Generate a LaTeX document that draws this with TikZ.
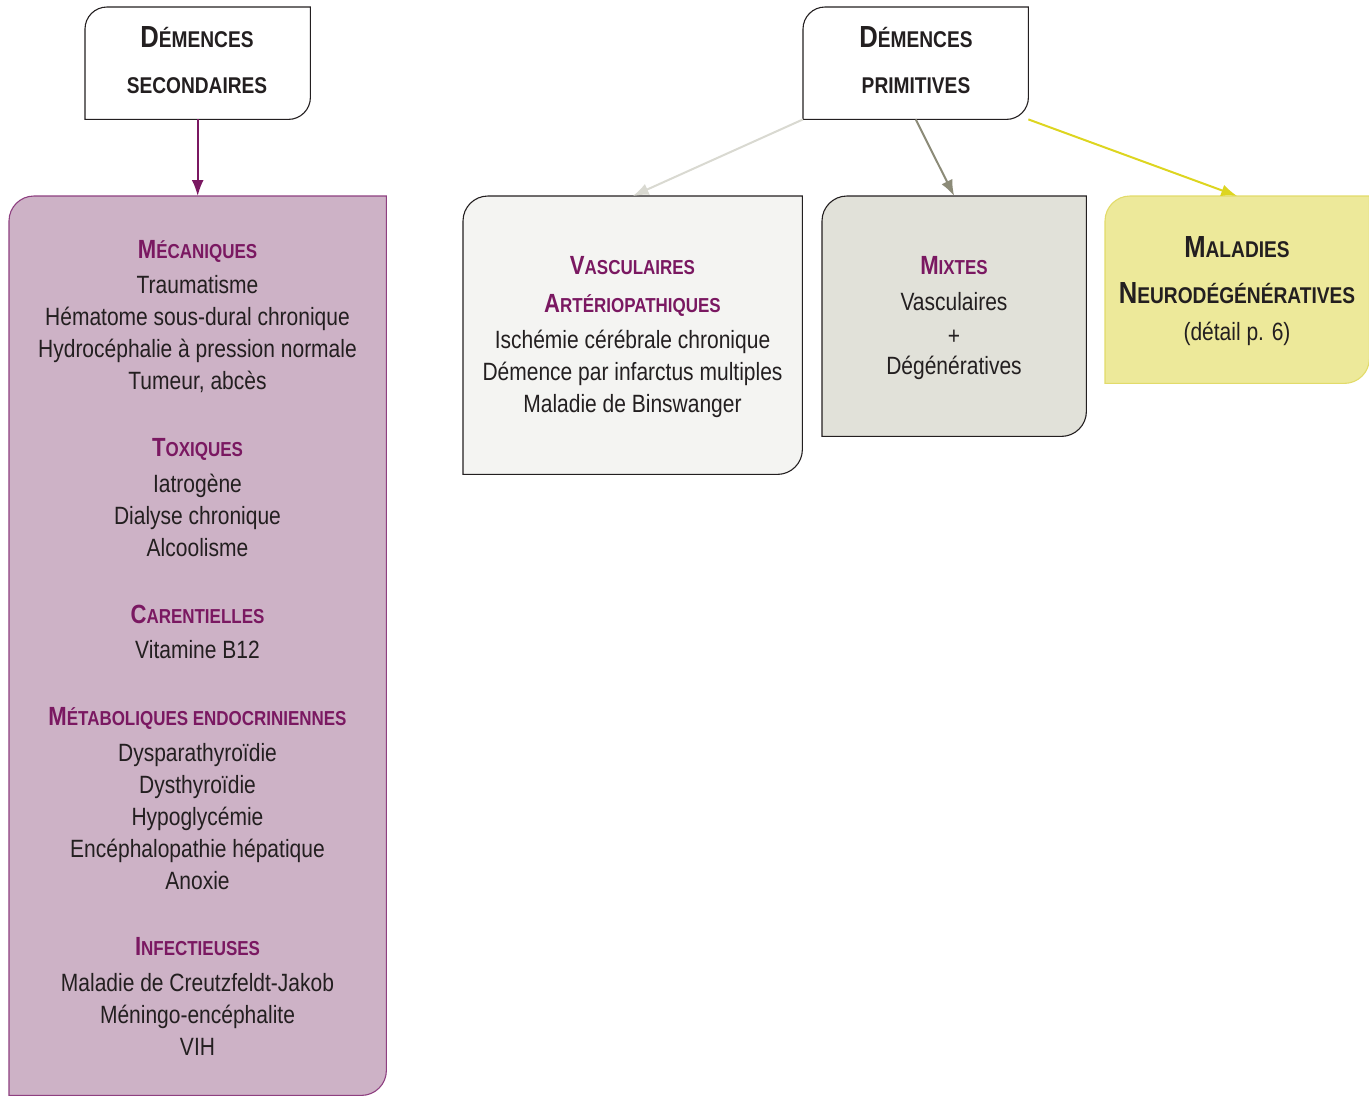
\documentclass[tikz,border=0pt]{standalone}
\usepackage{fontspec}
\setmainfont{Liberation Sans}[FakeStretch=0.84]
\usetikzlibrary{arrows.meta}
\definecolor{txt}{HTML}{231F20}
\definecolor{plum}{HTML}{7A1861}
\definecolor{plumfill}{HTML}{CDB2C6}
\definecolor{plumline}{HTML}{8E3F80}
\definecolor{vascfill}{HTML}{F4F4F2}
\definecolor{mixfill}{HTML}{E1E1D9}
\definecolor{malfill}{HTML}{EDE99A}
\definecolor{malline}{HTML}{E2DB6A}
\definecolor{arrvasc}{HTML}{D9D9D1}
\definecolor{arrmix}{HTML}{8C8B78}
\definecolor{arrmal}{HTML}{DDD520}
\newcommand\hsc[2]{{\fontsize{26.3}{26}\selectfont #1}{\fontsize{20.2}{20}\selectfont #2}}
\newcommand\bsc[2]{{\fontsize{30.5}{30}\selectfont #1}{\fontsize{22.8}{22.5}\selectfont #2}}
\newcommand\cbox[4]{\path[draw=#3,fill=#2,line width=1.1pt]
  ([yshift=-#4]#1.north west) arc[start angle=180,end angle=90,radius=#4] -- (#1.north east)
  -- ([yshift=#4]#1.south east) arc[start angle=0,end angle=-90,radius=#4] -- (#1.south west) -- cycle;}
\begin{document}
\begin{tikzpicture}[x=1pt,y=1pt,
  frame/.style={draw=none,inner sep=0pt,anchor=north west},
  ln/.style={anchor=base,inner sep=0pt,text=txt,font=\fontsize{25}{25}\selectfont},
  hd/.style={anchor=base,inner sep=0pt,text=plum,font=\bfseries},
  bh/.style={anchor=base,inner sep=0pt,text=txt,font=\bfseries},
  arr/.style={line width=2pt,-{Latex[length=16pt,width=12pt]}}]
\useasboundingbox (0,0) rectangle (1369,-1096);
% frames
\node[frame,minimum width=225pt,minimum height=112pt] (sec) at (85,-7) {};
\node[frame,minimum width=225pt,minimum height=112pt] (prim) at (803,-7) {};
\node[frame,minimum width=377pt,minimum height=899pt] (left) at (9,-196) {};
\node[frame,minimum width=339pt,minimum height=278pt] (vasc) at (463,-196) {};
\node[frame,minimum width=264pt,minimum height=240pt] (mix) at (822,-196) {};
\node[frame,minimum width=264pt,minimum height=187pt] (mal) at (1105,-196) {};
\cbox{sec}{white}{txt}{22pt}
\cbox{prim}{white}{txt}{22pt}
\cbox{left}{plumfill}{plumline}{25pt}
\cbox{vasc}{vascfill}{txt}{25pt}
\cbox{mix}{mixfill}{txt}{25pt}
\cbox{mal}{malfill}{malline}{25pt}
% arrows
\draw[arr,plum] (sec.south) -- (left.north);
\draw[arr,arrvasc] (prim.south west) -- (vasc.north);
\draw[arr,arrmix] (prim.south) -- (mix.north);
\draw[arr,arrmal] (prim.south east) -- (mal.north);
% top titles
\node[bh] (t1) at (197,-47) {\bsc{D}{ÉMENCES}};
\node[bh] (t2) at (197,-93) {\bsc{}{SECONDAIRES}};
\node[bh] (t3) at (916,-47) {\bsc{D}{ÉMENCES}};
\node[bh] (t4) at (916,-93) {\bsc{}{PRIMITIVES}};
% left box
\foreach \y/\s/\t [count=\i] in {249/hd/{\hsc{M}{ÉCANIQUES}},284/ln/Traumatisme,316/ln/{Hématome sous-dural chronique},348/ln/{Hydrocéphalie à pression normale},380/ln/{Tumeur, abcès},
 447/hd/{\hsc{T}{OXIQUES}},483/ln/Iatrogène,515/ln/{Dialyse chronique},547/ln/Alcoolisme,
 614/hd/{\hsc{C}{ARENTIELLES}},649/ln/{Vitamine B12},
 716/hd/{\hsc{M}{ÉTABOLIQUES ENDOCRINIENNES}},752/ln/Dysparathyroïdie,784/ln/Dysthyroïdie,816/ln/Hypoglycémie,848/ln/{Encéphalopathie hépatique},880/ln/Anoxie,
 946/hd/{\hsc{I}{NFECTIEUSES}},982/ln/{Maladie de Creutzfeldt-Jakob},1014/ln/{Méningo-encéphalite},1046/ln/VIH}
  \node[\s] (L\i) at (197.5,-\y-9) {\t};
% vascular
\foreach \y/\s/\t [count=\i] in {265/hd/{\hsc{V}{ASCULAIRES}},303/hd/{\hsc{A}{RTÉRIOPATHIQUES}},339/ln/{Ischémie cérébrale chronique},371/ln/{Démence par infarctus multiples},403/ln/{Maladie de Binswanger}}
  \node[\s] (V\i) at (632.5,-\y-9) {\t};
% mixed
\foreach \y/\s/\t [count=\i] in {265/hd/{\hsc{M}{IXTES}},301/ln/Vasculaires,335/ln/+,365/ln/Dégénératives}
  \node[\s] (X\i) at (954,-\y-9) {\t};
% neurodegenerative
\node[bh] (M1) at (1237,-247-10) {\bsc{M}{ALADIES}};
\node[bh] (M2) at (1237,-293-10) {\bsc{N}{EURODÉGÉNÉRATIVES}};
\node[ln] (M3) at (1237,-331-9) {(détail p. 6)};
\end{tikzpicture}
\end{document}
